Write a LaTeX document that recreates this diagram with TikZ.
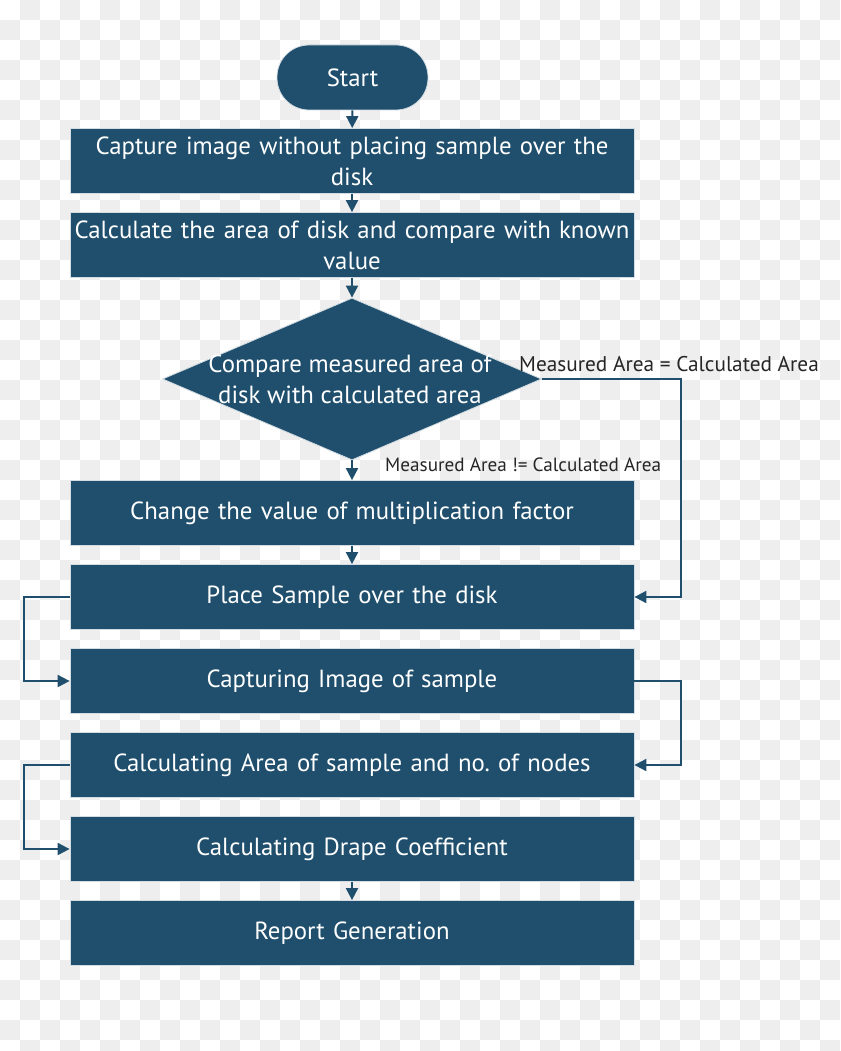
\documentclass[tikz,border=0pt]{standalone}
\usepackage{fontspec}
\setmainfont{PT Sans}
\usetikzlibrary{shapes.geometric,arrows.meta}
\definecolor{dblue}{HTML}{1F4F6D}
\definecolor{chk}{HTML}{EEEEEE}
\tikzset{
  box/.style={rectangle, fill=dblue, draw=dblue!20, line width=0.8pt, minimum width=564, minimum height=65, inner sep=0pt, text width=560, align=center, text=white, font=\fontsize{24.8}{31}\selectfont},
  term/.style={rectangle, rounded corners=32pt, fill=dblue, draw=dblue!20, line width=0.8pt, minimum width=151, minimum height=65, text=white, font=\fontsize{24.8}{31}\selectfont},
  dec/.style={diamond, fill=dblue, draw=dblue!20, line width=0.8pt, minimum width=379, minimum height=162, inner sep=0pt},
  arr/.style={draw=dblue, line width=2pt, -{Triangle[length=12pt,width=12pt]}},
  lbl/.style={font=\fontsize{21.3}{24}\selectfont, text=black!85, inner sep=0pt},
}
\begin{document}
\frenchspacing
\begin{tikzpicture}[x=1pt,y=-1pt]
\useasboundingbox (0,0) rectangle (840,1051);
\begin{scope}
\clip (0,0) rectangle (840,1051);
\fill[white] (0,0) rectangle (840,1051);
\foreach \i in {0,...,41}{\foreach \j in {0,...,52}{\pgfmathtruncatemacro\k{mod(\i+\j,2)}\ifnum\k=1 \fill[chk] (\i*20,\j*20) rectangle ++(20,20);\fi}}
\end{scope}
\node[term] (start) at (352.5,77.5) {Start};
\node[box] (b1) at (352,161) {Capture image without placing sample over the\\disk};
\node[box] (b2) at (352,245) {Calculate the area of disk and compare with known\\value};
\node[dec] (dec) at (352,379) {};
\node[text=white, align=center, font=\fontsize{24.8}{31}\selectfont] (dect) at (350,379) {Compare measured area of\\disk with calculated area};
\node[box] (b3) at (352,513) {Change the value of multiplication factor};
\node[box] (b4) at (352,597) {Place Sample over the disk};
\node[box] (b5) at (352,681) {Capturing Image of sample};
\node[box] (b6) at (352,765) {Calculating Area of sample and no.\ of nodes};
\node[box] (b7) at (352,849) {Calculating Drape Coefficient};
\node[box] (b8) at (352,933) {Report Generation};
\node[lbl, anchor=west] (l1) at (519,364) {Measured Area = Calculated Area};
\node[lbl, anchor=west, font=\fontsize{19.2}{22}\selectfont] (l2) at (385,465) {Measured Area != Calculated Area};
\draw[arr] (start) -- (b1);
\draw[arr] (b1) -- (b2);
\draw[arr] (b2) -- (dec.north);
\draw[arr] (dec.south) -- (b3);
\draw[arr] (b3) -- (b4);
\draw[arr] (dec.east) -| ([xshift=47pt]b4.east) -- (b4.east);
\draw[arr] (b4.west) -- ++(-46,0) |- (b5.west);
\draw[arr] (b5.east) -- ++(47,0) |- (b6.east);
\draw[arr] (b6.west) -- ++(-46,0) |- (b7.west);
\draw[arr] (b7) -- (b8);
\end{tikzpicture}
\end{document}
